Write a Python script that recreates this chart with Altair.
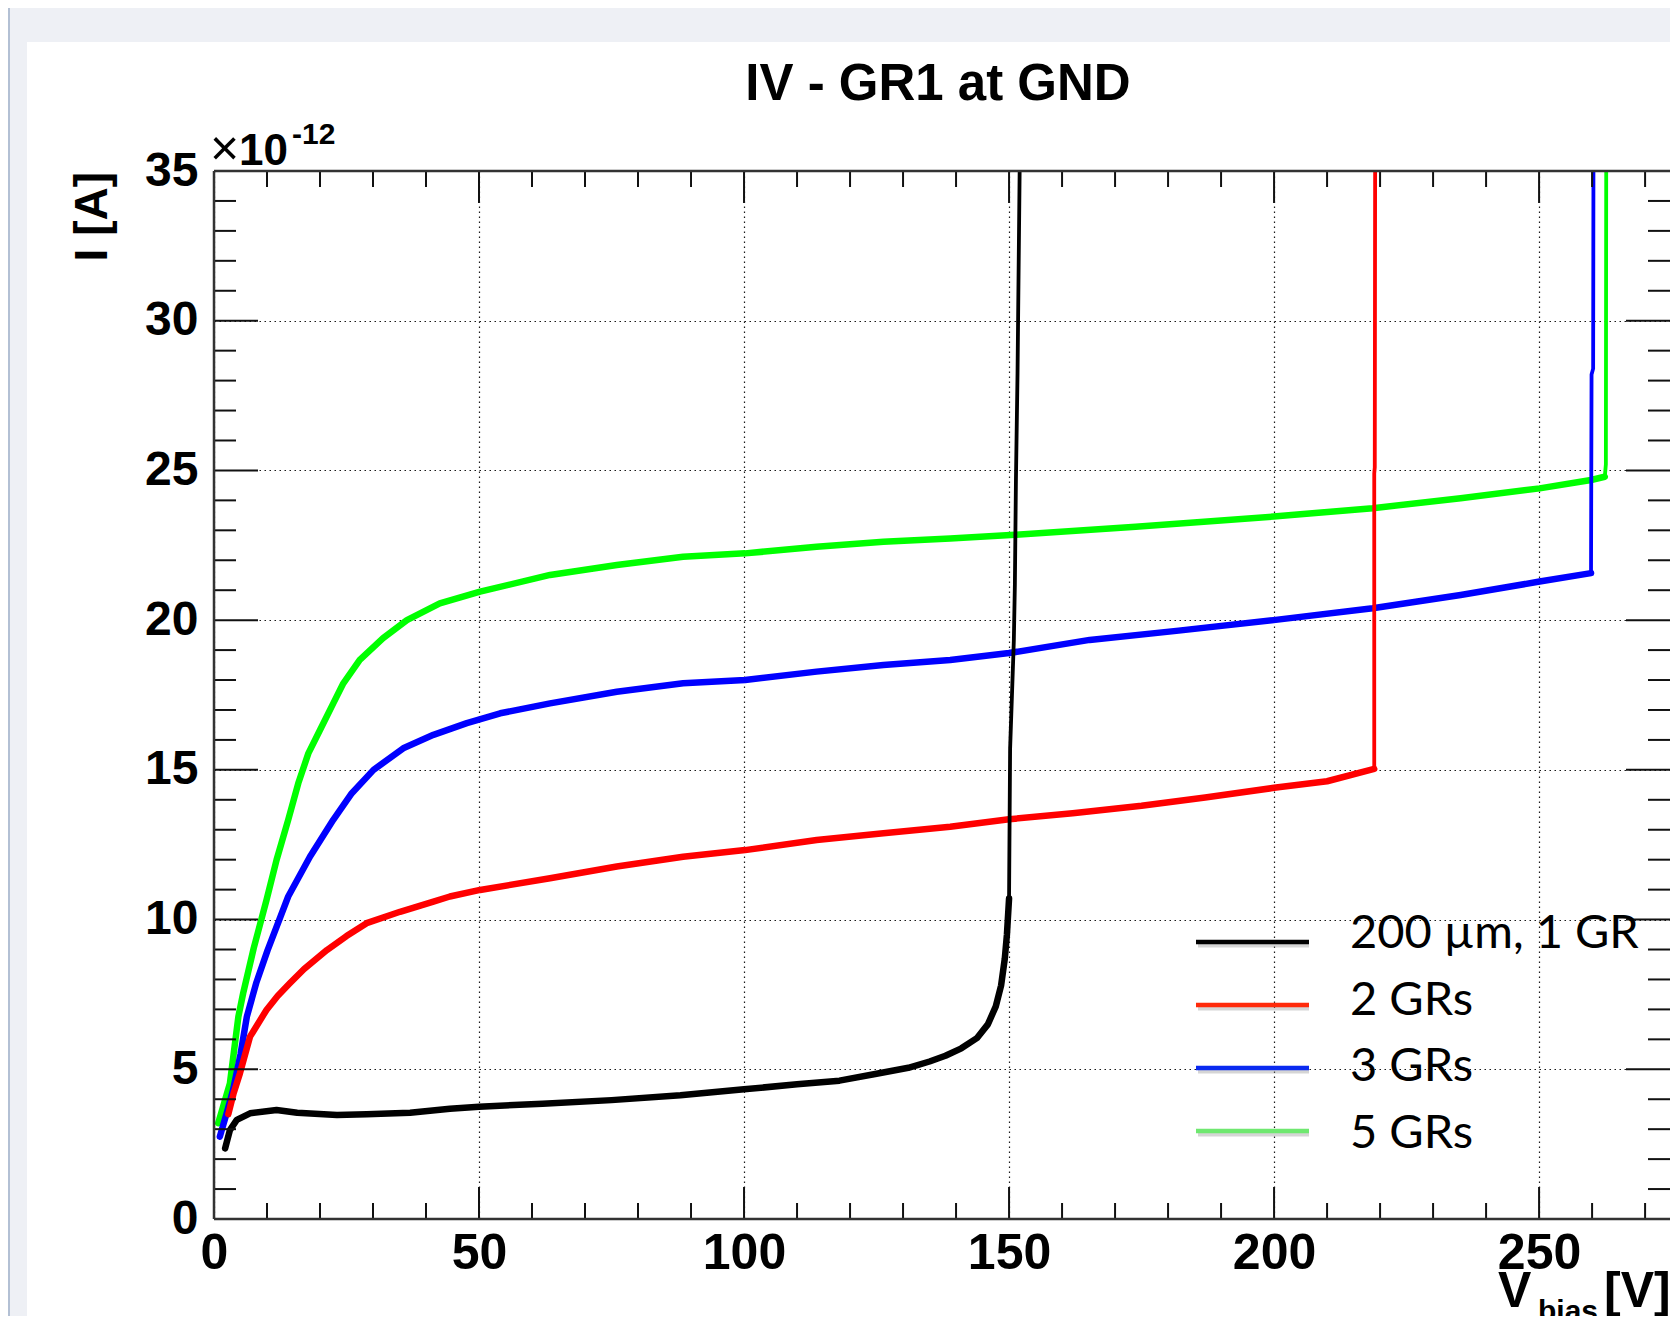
import altair as alt
import pandas as pd

# ---------------- data ----------------
TITLE = "IV - GR1 at GND"
SERIES = ["200 µm, 1 GR", "2 GRs", "3 GRs", "5 GRs"]
LINE_COLORS = ["#000000", "#ff0000", "#0000ff", "#00ff00"]
LEGEND_COLORS = ["#000000", "#ff2a0a", "#0a2af0", "#6fe870"]

X_TICKS = [0, 50, 100, 150, 200, 250]
Y_TICKS = [0, 5, 10, 15, 20, 25, 30, 35]
X_MINOR = [v for v in range(0, 280, 10) if v % 50]
Y_MINOR = [v for v in range(0, 36) if v % 5]

black_v = [2.1, 3.0, 4.3, 6.8, 11.8, 15.7, 23.2, 28.8, 37.0, 44.5, 50.0, 62.0, 75.0,
           88.0, 100.0, 110.0, 118.0, 125.0, 131.0, 135.0, 138.0, 141.0, 144.0, 146.0,
           147.5, 148.5, 149.2, 149.6, 150.0, 150.2, 150.9, 151.1, 151.3, 151.6, 152.0, 152.3]
black_i = [2.36, 2.97, 3.31, 3.53, 3.64, 3.55, 3.47, 3.50, 3.55, 3.68, 3.75, 3.85, 3.97,
           4.13, 4.33, 4.50, 4.62, 4.85, 5.05, 5.26, 5.45, 5.70, 6.05, 6.50,
           7.10, 7.80, 8.70, 9.50, 10.7, 15.7, 19.3, 21.2, 24.7, 28.25, 35.0, 40.0]

red_v = [2.7, 3.7, 4.9, 6.8, 9.9, 12.0, 14.3, 17.0, 21.3, 25.0, 28.8, 35.1, 41.4, 44.5,
         50.2, 63.4, 76.0, 88.5, 100.2, 113.7, 126.3, 138.9, 150.0, 162.0, 175.0, 187.0,
         200.0, 210.0, 218.9, 218.9, 219.0, 219.1]
red_i = [3.50, 4.20, 4.87, 6.09, 6.98, 7.45, 7.87, 8.35, 8.98, 9.45, 9.88, 10.26, 10.60, 10.77,
         10.99, 11.38, 11.77, 12.10, 12.32, 12.66, 12.88, 13.10, 13.35, 13.55, 13.80, 14.08,
         14.40, 14.62, 15.03, 24.9, 25.1, 40.0]

blue_v = [1.1, 2.5, 3.6, 5.0, 6.2, 8.0, 10.1, 14.0, 18.1, 22.5, 26.0, 30.1, 35.7, 41.4,
          47.7, 54.0, 63.4, 76.0, 88.5, 100.2, 113.7, 126.3, 138.9, 150.0, 165.2, 182.0,
          199.9, 218.6, 235.2, 250.1, 259.8, 259.9, 260.2, 260.3]
blue_i = [2.75, 3.60, 4.31, 5.50, 6.76, 7.90, 8.97, 10.77, 12.10, 13.33, 14.22, 15.00, 15.72, 16.17,
          16.56, 16.89, 17.22, 17.61, 17.89, 18.00, 18.28, 18.50, 18.67, 18.90, 19.34, 19.65,
          20.00, 20.40, 20.84, 21.29, 21.57, 28.2, 28.4, 40.0]

green_v = [0.8, 3.0, 4.6, 5.5, 7.5, 9.9, 11.8, 14.0, 15.9, 17.8, 20.0, 22.5, 24.4, 27.5,
           31.9, 36.4, 42.6, 50.2, 63.4, 76.0, 88.5, 100.2, 113.7, 126.3, 138.9, 151.1,
           173.9, 199.9, 218.6, 235.2, 250.1, 259.8, 262.4, 262.6, 262.7]
green_i = [3.20, 4.53, 6.76, 7.54, 9.05, 10.65, 11.99, 13.33, 14.55, 15.55, 16.33, 17.22, 17.89, 18.67,
           19.40, 20.00, 20.56, 20.95, 21.51, 21.84, 22.12, 22.23, 22.45, 22.62, 22.73, 22.85,
           23.12, 23.46, 23.74, 24.07, 24.40, 24.68, 24.79, 25.2, 40.0]

# ---------------- layout / style ----------------
W, H = 1456, 1048
PAD = {"left": 206, "top": 163, "right": 0, "bottom": 97}
XMAX = 274.7
FONT = "Liberation Sans"
FRAME = "#333333"
BG_GRAY = "#eef0f5"

xscale = alt.Scale(domain=[0, XMAX], nice=False, zero=False)
yscale = alt.Scale(domain=[0, 35], nice=False, zero=False)

xaxis = alt.Axis(values=X_TICKS, format="d", title=None, ticks=False, domain=False,
                 grid=True, gridDash=[1.5, 3.5], gridColor="#1a1a1a", gridWidth=1.2,
                 labelFont=FONT, labelFontWeight="bold", labelFontSize=50, labelColor="#000000",
                 labelPadding=9, labelFlush=False, labelOverlap=False)
yaxis = alt.Axis(values=Y_TICKS, format="d", title=None, ticks=False, domain=False,
                 grid=True, gridDash=[1.5, 3.5], gridColor="#1a1a1a", gridWidth=1.2,
                 labelFont=FONT, labelFontWeight="bold", labelFontSize=48, labelColor="#000000",
                 labelPadding=16, labelFlush=False, labelOverlap=False)


def X(field="V"):
    return alt.X(f"{field}:Q", scale=xscale, axis=xaxis)


def Y(field="I"):
    return alt.Y(f"{field}:Q", scale=yscale, axis=yaxis)


one = pd.DataFrame({"k": [0]})

# page-like gray border (screenshot frame)
bg_top = alt.Chart(one).mark_rect(color=BG_GRAY).encode(
    x=alt.value(-PAD["left"]), x2=alt.value(W), y=alt.value(-PAD["top"]), y2=alt.value(42 - 171))
bg_left = alt.Chart(one).mark_rect(color=BG_GRAY).encode(
    x=alt.value(-PAD["left"]), x2=alt.value(27 - 214), y=alt.value(-PAD["top"]), y2=alt.value(H + PAD["bottom"]))
bg_edge = alt.Chart(one).mark_rule(color="#9fb0c8", strokeWidth=1.5).encode(
    x=alt.value(-PAD["left"] + 1), y=alt.value(-PAD["top"]), y2=alt.value(H + PAD["bottom"]))

# axis frame (left, top, bottom)
frame_top = alt.Chart(one).mark_rule(color=FRAME, strokeWidth=2.5).encode(
    x=alt.value(0), x2=alt.value(W), y=alt.value(0))
frame_bottom = alt.Chart(one).mark_rule(color=FRAME, strokeWidth=2.5).encode(
    x=alt.value(0), x2=alt.value(W), y=alt.value(H))
frame_left = alt.Chart(one).mark_rule(color=FRAME, strokeWidth=2.5).encode(
    x=alt.value(0), y=alt.value(0), y2=alt.value(H))


def xticks(vals, y0, y1):
    return alt.Chart(pd.DataFrame({"V": vals})).mark_rule(color="#111111", strokeWidth=2).encode(
        x=X(), y=alt.value(y0), y2=alt.value(y1))


def yticks(vals, x0, x1):
    return alt.Chart(pd.DataFrame({"I": vals})).mark_rule(color="#111111", strokeWidth=2).encode(
        y=Y(), x=alt.value(x0), x2=alt.value(x1))


XMAJ, XMIN, YMAJ, YMIN = 32, 16, 44, 22
tick_layers = [
    xticks(X_TICKS, H, H - XMAJ), xticks(X_MINOR, H, H - XMIN),
    xticks(X_TICKS, 0, XMAJ), xticks(X_MINOR, 0, XMIN),
    yticks(Y_TICKS, 0, YMAJ), yticks(Y_MINOR, 0, YMIN),
    yticks(Y_TICKS, W, W - YMAJ), yticks(Y_MINOR, W, W - YMIN),
]

# curves (drawn green, blue, red, black so black is on top)
curves_data = [
    (SERIES[3], LINE_COLORS[3], green_v, green_i),
    (SERIES[2], LINE_COLORS[2], blue_v, blue_i),
    (SERIES[1], LINE_COLORS[1], red_v, red_i),
    (SERIES[0], LINE_COLORS[0], black_v, black_i),
]


def knee_index(vs, span=2.5):
    # first point after which the curve only climbs (breakdown, nearly vertical)
    for i in range(len(vs)):
        if max(vs[i:]) - vs[i] < span:
            return i
    return len(vs) - 1


curve_layers = []
for name, col, vs, cur in curves_data:
    df = pd.DataFrame({"V": vs, "I": cur, "idx": list(range(len(vs))), "series": name})
    k = knee_index(vs)
    # thin line for the whole curve (the breakdown part is thin in the reference)
    curve_layers.append(
        alt.Chart(df).mark_line(color=col, strokeWidth=3.8, clip=True, strokeJoin="round").encode(
            x=X(), y=Y(), order="idx:Q"))
    # thicker line where the measured points (markers) are dense
    curve_layers.append(
        alt.Chart(df).transform_filter(alt.datum.idx <= k).mark_line(
            color=col, strokeWidth=6.5, clip=True, strokeJoin="round", strokeCap="round").encode(
            x=X(), y=Y(), order="idx:Q"))

# texts
title = alt.Chart(one).mark_text(text=TITLE, font=FONT, fontWeight="bold", fontSize=51,
                                 align="center", baseline="alphabetic", color="#000000").encode(
    x=alt.value(724), y=alt.value(-71))
exp_times = alt.Chart(one).mark_text(text="×", font=FONT, fontWeight="normal", fontSize=50,
                                     align="left", baseline="alphabetic", color="#000000").encode(
    x=alt.value(-4), y=alt.value(-6))
exp_base = alt.Chart(one).mark_text(text="10", font=FONT, fontWeight="bold", fontSize=44,
                                    align="left", baseline="alphabetic", color="#000000").encode(
    x=alt.value(25), y=alt.value(-6))
exp_sup = alt.Chart(one).mark_text(text="-12", font=FONT, fontWeight="bold", fontSize=30,
                                   align="left", baseline="alphabetic", color="#000000").encode(
    x=alt.value(78), y=alt.value(-27))
ytitle = alt.Chart(one).mark_text(text="I [A]", font=FONT, fontWeight="bold", fontSize=46,
                                  align="right", baseline="alphabetic", angle=270, color="#000000").encode(
    x=alt.value(-107), y=alt.value(1))
xt_v = alt.Chart(one).mark_text(text="V", font=FONT, fontWeight="bold", fontSize=50,
                                align="left", baseline="alphabetic", color="#000000").encode(
    x=alt.value(1284), y=alt.value(1136))
xt_sub = alt.Chart(one).mark_text(text="bias", font=FONT, fontWeight="bold", fontSize=30,
                                  align="left", baseline="alphabetic", color="#000000").encode(
    x=alt.value(1324), y=alt.value(1150))
xt_unit = alt.Chart(one).mark_text(text="[V]", font=FONT, fontWeight="bold", fontSize=50,
                                   align="left", baseline="alphabetic", color="#000000").encode(
    x=alt.value(1390), y=alt.value(1136))

main = alt.layer(bg_top, bg_left, bg_edge, *curve_layers, *tick_layers,
                 frame_top, frame_bottom, frame_left,
                 title, exp_times, exp_base, exp_sup, ytitle, xt_v, xt_sub, xt_unit)

# legend (built from the series list)
leg_df = pd.DataFrame({"series": SERIES, "lcolor": LEGEND_COLORS})
line_rows = alt.Scale(type="point", domain=SERIES, range=[942 - 171, 1131 - 171], padding=0)
text_rows = alt.Scale(type="point", domain=SERIES, range=[948 - 171, 1148 - 171], padding=0)

leg_shadow = alt.Chart(leg_df).mark_rule(color="#888888", opacity=0.35, strokeWidth=5,
                                         xOffset=2, yOffset=3).encode(
    x=alt.value(982), x2=alt.value(1095), y=alt.Y("series:N", scale=line_rows, axis=None))
leg_lines = alt.Chart(leg_df).mark_rule(strokeWidth=4.5).encode(
    x=alt.value(982), x2=alt.value(1095), y=alt.Y("series:N", scale=line_rows, axis=None),
    color=alt.Color("lcolor:N", scale=None))
leg_text = alt.Chart(leg_df).mark_text(align="left", baseline="alphabetic", font="Lato",
                                       fontSize=47, color="#000000").encode(
    x=alt.value(1136), y=alt.Y("series:N", scale=text_rows, axis=None), text="series:N")

chart = alt.layer(main, leg_shadow, leg_lines, leg_text).resolve_scale(
    y="independent"
).properties(
    width=W, height=H, padding=PAD, autosize=alt.AutoSizeParams(type="none"),
    background="#ffffff"
).configure_view(stroke=None)

chart.save("out.html", embed_options={"renderer": "svg", "actions": False})
